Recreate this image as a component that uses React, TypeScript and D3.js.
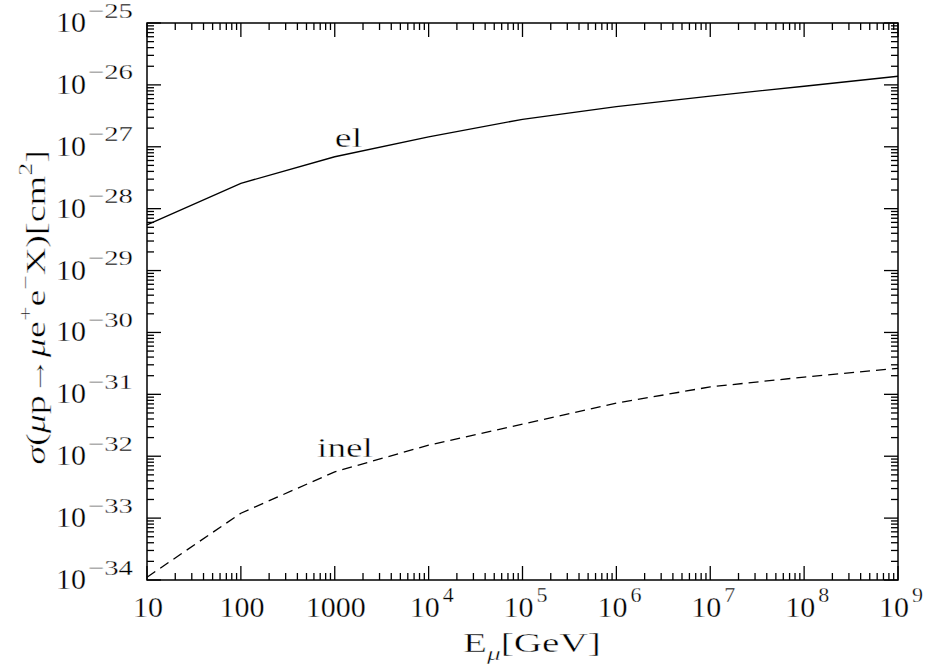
import React from "react";
import * as d3 from "d3";

const energies = [10, 100, 1000, 1e4, 1e5, 1e6, 1e7, 1e8, 1e9];
const sigmaEl = [5.46e-29, 2.57e-28, 6.9e-28, 1.45e-27, 2.78e-27, 4.47e-27, 6.6e-27, 9.5e-27, 1.38e-26];
const sigmaInel = [1.11e-34, 1.2e-33, 5.6e-33, 1.51e-32, 3.3e-32, 7.2e-32, 1.32e-31, 1.9e-31, 2.63e-31];

const xTickValues = [10, 100, 1000, 1e4, 1e5, 1e6, 1e7, 1e8, 1e9];
const xTickBase = ["10", "100", "1000", "10", "10", "10", "10", "10", "10"];
const xTickExp = ["", "", "", "4", "5", "6", "7", "8", "9"];

const yTickValues = [1e-25, 1e-26, 1e-27, 1e-28, 1e-29, 1e-30, 1e-31, 1e-32, 1e-33, 1e-34];
const yTickExp = ["−25", "−26", "−27", "−28", "−29", "−30", "−31", "−32", "−33", "−34"];

const curveLabels = ["el", "inel"];

const W = 928;
const H = 672;
const L = 147, R = 898, T = 23, B = 580;
const FONT = "'Liberation Serif', 'DejaVu Serif', serif";

export default function App() {
  const x = d3.scaleLog().domain([10, 1e9]).range([L, R]);
  const y = d3.scaleLog().domain([1e-34, 1e-25]).range([B, T]);

  const line = d3
    .line<[number, number]>()
    .x((d) => x(d[0]))
    .y((d) => y(d[1]));

  const elData = energies.map((e, i) => [e, sigmaEl[i]] as [number, number]);
  const inelData = energies.map((e, i) => [e, sigmaInel[i]] as [number, number]);

  const xMinor: number[] = [];
  for (let p = 1; p < 9; p++) for (let k = 2; k <= 9; k++) xMinor.push(k * Math.pow(10, p));
  const yMinor: number[] = [];
  for (let p = -34; p < -25; p++) for (let k = 2; k <= 9; k++) yMinor.push(k * Math.pow(10, p));

  const major = 14, minor = 7;
  const sw = 1.3;
  const thin = { stroke: "#fff", strokeWidth: 0.4 } as const;
  const thinTick = { stroke: "#fff", strokeWidth: 0.3 } as const;

  return (
    <svg width={W} height={H} style={{ position: "absolute", left: 0, top: 0, background: "#fff" }} fontFamily={FONT} fill="#000">
      <rect x={0} y={0} width={W} height={H} fill="#fff" />
      <g stroke="#000" strokeWidth={sw}>
        {xTickValues.map((v, i) => (
          <g key={"xm" + i}>
            <line x1={x(v)} x2={x(v)} y1={B} y2={B - major} />
            <line x1={x(v)} x2={x(v)} y1={T} y2={T + major} />
          </g>
        ))}
        {xMinor.map((v, i) => (
          <g key={"xn" + i}>
            <line x1={x(v)} x2={x(v)} y1={B} y2={B - minor} />
            <line x1={x(v)} x2={x(v)} y1={T} y2={T + minor} />
          </g>
        ))}
        {yTickValues.map((v, i) => (
          <g key={"ym" + i}>
            <line x1={L} x2={L + major} y1={y(v)} y2={y(v)} />
            <line x1={R} x2={R - major} y1={y(v)} y2={y(v)} />
          </g>
        ))}
        {yMinor.map((v, i) => (
          <g key={"yn" + i}>
            <line x1={L} x2={L + minor} y1={y(v)} y2={y(v)} />
            <line x1={R} x2={R - minor} y1={y(v)} y2={y(v)} />
          </g>
        ))}
      </g>
      <rect x={L} y={T} width={R - L} height={B - T} fill="none" stroke="#000" strokeWidth={1.5} />

      <path d={line(elData) || ""} fill="none" stroke="#000" strokeWidth={1.3} />
      <path d={line(inelData) || ""} fill="none" stroke="#000" strokeWidth={1.3} strokeDasharray="10,6" />

      <g transform="translate(348.5,147) scale(1.35,1)">
        <text x={0} y={0} fontSize={28} textAnchor="middle" {...thin}>{curveLabels[0]}</text>
      </g>
      <g transform="translate(345,457) scale(1.33,1)">
        <text x={0} y={0} fontSize={28} textAnchor="middle" {...thin}>{curveLabels[1]}</text>
      </g>

      {xTickValues.map((v, i) =>
        xTickExp[i] ? (
          <g key={"xl" + i}>
            <text x={x(v) - 19} y={617} fontSize={30} {...thinTick}>{xTickBase[i]}</text>
            <text x={x(v) + 14} y={602} fontSize={22} {...thinTick}>{xTickExp[i]}</text>
          </g>
        ) : (
          <text key={"xl" + i} x={x(v) + 1} y={617} fontSize={30} textAnchor="middle" {...thinTick}>
            {xTickBase[i]}
          </text>
        )
      )}

      {yTickValues.map((v, i) => (
        <g key={"yl" + i}>
          <text x={56} y={y(v) + 9} fontSize={30} {...thinTick}>10</text>
          <text x={88} y={y(v) - 5.5} fontSize={21} textLength={45} lengthAdjust="spacingAndGlyphs" {...thinTick}>
            {yTickExp[i]}
          </text>
        </g>
      ))}

      <g transform="translate(463,652) scale(1.45,1)">
        <text x={0} y={0} fontSize={27} {...thin}>
          E<tspan dy={8} fontSize={19} fontStyle="italic">μ</tspan>
          <tspan dy={-8}>[GeV]</tspan>
        </text>
      </g>

      <g transform={`translate(45,${(T + B) / 2 + 6}) rotate(-90) scale(1.36,1)`}>
        <text x={0} y={0} fontSize={28} textAnchor="middle" {...thin}>
          <tspan fontStyle="italic">σ</tspan>(<tspan fontStyle="italic">μ</tspan>p→<tspan fontStyle="italic">μ</tspan>e
          <tspan dy={-13} fontSize={19}>+</tspan>
          <tspan dy={13}>e</tspan>
          <tspan dy={-13} fontSize={19}>−</tspan>
          <tspan dy={13}>X)[cm</tspan>
          <tspan dy={-13} fontSize={19}>2</tspan>
          <tspan dy={13}>]</tspan>
        </text>
      </g>
    </svg>
  );
}
